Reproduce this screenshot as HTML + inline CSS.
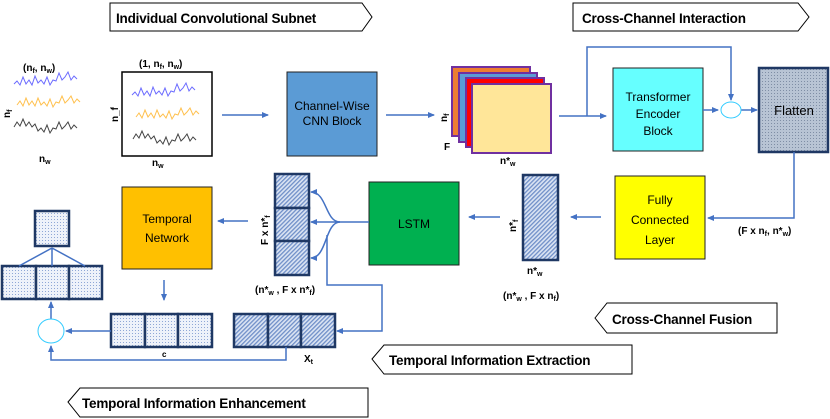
<!DOCTYPE html>
<html><head><meta charset="utf-8"><style>
body{margin:0;background:#fff}
svg{display:block}
text{font-family:"Liberation Sans",sans-serif}
</style></head><body>
<svg width="830" height="419" viewBox="0 0 830 419" xmlns="http://www.w3.org/2000/svg">
<defs>
<pattern id="hd" width="3" height="3" patternUnits="userSpaceOnUse" patternTransform="rotate(45)"><rect width="3" height="3" fill="#dbe4f3"/><rect width="1.3" height="3" fill="#6f8fc8"/></pattern>
<pattern id="dt" width="3" height="3" patternUnits="userSpaceOnUse"><rect width="3" height="3" fill="#eef2fa"/><rect width="1" height="1" fill="#8fa7d6"/></pattern>
<pattern id="gr" width="3" height="3" patternUnits="userSpaceOnUse"><rect width="3" height="3" fill="#b8c4d4"/><rect width="1" height="1" fill="#7f8ea5"/></pattern>
<marker id="ar" markerWidth="8" markerHeight="8" refX="6" refY="3" orient="auto" markerUnits="userSpaceOnUse"><path d="M0,0 L7,3 L0,6 z" fill="#4472C4"/></marker>
</defs>
<g stroke="#000" stroke-width="1" fill="#fff">
<path d="M110,3 H362 L372,17 L362,31 H110 Z"/>
<path d="M573,3 H798 L809,17 L798,31 H573 Z"/>
<path d="M595,318 L607,303 H777 V333 H607 Z"/>
<path d="M372,359 L384,345 H632 V374 H384 Z"/>
<path d="M68,402 L80,388 H368 V417 H80 Z"/>
</g>
<g font-weight="bold" font-size="13.5" fill="#000" letter-spacing="-0.2">
<text x="116" y="23">Individual Convolutional Subnet</text>
<text x="582" y="23">Cross-Channel Interaction</text>
<text x="612" y="324">Cross-Channel Fusion</text>
<text x="389" y="365">Temporal Information Extraction</text>
<text x="82" y="408">Temporal Information Enhancement</text>
</g>
<!-- signals -->
<g fill="none" stroke-width="1">
<path d="M14,84 l3,-3 3,4 3,-8 3,7 3,-4 3,5 3,-9 3,7 3,-3 3,4 3,-7 3,8 3,-5 3,1 3,-8 3,7 3,-3 3,-5 3,8 3,-4 3,3" stroke="#6b6bff"/>
<path d="M17,105 l3,-4 3,5 3,-8 3,7 3,-4 3,5 3,-8 3,7 3,-3 3,4 3,-7 3,8 3,-5 3,1 3,-7 3,7 3,-3 3,-4 3,7 3,-4 3,3" stroke="#ffc04d"/>
<path d="M14,127 l3,-5 3,4 3,-7 3,7 3,-4 3,5 3,-3 3,7 3,-3 3,4 3,-7 3,8 3,-5 3,1 3,-7 3,7 3,-3 3,-4 3,7 3,-4 3,3" stroke="#444"/>
<path d="M132,95 l3,-3 3,4 3,-8 3,7 3,-4 3,5 3,-9 3,7 3,-3 3,4 3,-7 3,8 3,-5 3,1 3,-8 3,7 3,-3 3,-5 3,8 3,-4 3,3" stroke="#6b6bff"/>
<path d="M136,117 l3,-4 3,5 3,-8 3,7 3,-4 3,5 3,-8 3,7 3,-3 3,4 3,-7 3,8 3,-5 3,1 3,-7 3,7 3,-3 3,-4 3,7 3,-4 3,3" stroke="#ffc04d"/>
<path d="M133,139 l3,-5 3,4 3,-7 3,7 3,-4 3,5 3,-3 3,7 3,-3 3,4 3,-7 3,8 3,-5 3,1 3,-7 3,7 3,-3 3,-4 3,7 3,-4 3,3" stroke="#444"/>
</g>
<g font-weight="bold" font-size="10" fill="#000">
<text x="23" y="71">(n<tspan font-size="7" dy="2">f</tspan><tspan dy="-2">, n</tspan><tspan font-size="7" dy="2">w</tspan><tspan dy="-2">)</tspan></text>
<text x="39" y="162">n<tspan font-size="7" dy="2">w</tspan></text>
<text x="152" y="166">n<tspan font-size="7" dy="2">w</tspan></text>
<text x="139" y="67">(1, n<tspan font-size="7" dy="2">f</tspan><tspan dy="-2">, n</tspan><tspan font-size="7" dy="2">w</tspan><tspan dy="-2">)</tspan></text>
<text transform="translate(10,118) rotate(-90)">n<tspan font-size="7" dy="2">f</tspan></text>
<text transform="translate(118,122) rotate(-90)">n_f</text>
<text transform="translate(447,122) rotate(-90)">n<tspan font-size="7" dy="2">f</tspan></text>
<text x="444" y="150">F</text>
<text x="500" y="164">n*<tspan font-size="7" dy="2">w</tspan></text>
<text x="738" y="234">(F x n<tspan font-size="7" dy="2">f</tspan><tspan dy="-2">, n*</tspan><tspan font-size="7" dy="2">w</tspan><tspan dy="-2">)</tspan></text>
<text transform="translate(516,232) rotate(-90)">n*<tspan font-size="7" dy="2">f</tspan></text>
<text x="527" y="274">n*<tspan font-size="7" dy="2">w</tspan></text>
<text x="503" y="299">(n*<tspan font-size="7" dy="2">w</tspan><tspan dy="-2"> , F x n</tspan><tspan font-size="7" dy="2">f</tspan><tspan dy="-2">)</tspan></text>
<text transform="translate(268,245) rotate(-90)">F x n*<tspan font-size="7" dy="2">f</tspan></text>
<text x="255" y="293">(n*<tspan font-size="7" dy="2">w</tspan><tspan dy="-2"> , F x n*</tspan><tspan font-size="7" dy="2">f</tspan><tspan dy="-2">)</tspan></text>
<text x="304" y="362">X<tspan font-size="7" dy="2">t</tspan></text>
<text x="162" y="357" font-size="8">c</text>
</g>
<rect x="122" y="72" width="90" height="84" fill="none" stroke="#000" stroke-width="1.5"/>
<!-- boxes -->
<g stroke="#222" stroke-width="1">
<rect x="287" y="72" width="90" height="84" fill="#5B9BD5"/>
<rect x="613" y="68" width="90" height="83" fill="#66FFFF"/>
<rect x="615" y="176" width="90" height="83" fill="#FFFF00"/>
<rect x="369" y="182" width="90" height="83" fill="#00B050"/>
<rect x="122" y="187" width="90" height="82" fill="#FFC000"/>
</g>
<g stroke="#7030A0" stroke-width="2">
<rect x="452" y="67" width="78" height="69" fill="#ED7D31"/>
<rect x="459" y="73" width="78" height="69" fill="#5B9BD5"/>
<rect x="466" y="78" width="78" height="69" fill="#FF0000"/>
<rect x="472" y="84" width="79" height="69" fill="#FFE699"/>
</g>
<rect x="759" y="68" width="69" height="84" fill="url(#gr)" stroke="#1F3864" stroke-width="2.5"/>
<g stroke="#1F3864" stroke-width="2.5">
<rect x="523" y="175" width="35" height="85" fill="url(#hd)"/>
<rect x="275" y="174" width="34" height="34" fill="url(#hd)"/>
<rect x="275" y="208" width="34" height="33" fill="url(#hd)"/>
<rect x="275" y="241" width="34" height="34" fill="url(#hd)"/>
<rect x="234" y="314" width="34" height="33" fill="url(#hd)"/>
<rect x="268" y="314" width="33" height="33" fill="url(#hd)"/>
<rect x="301" y="314" width="34" height="33" fill="url(#hd)"/>
<rect x="111" y="314" width="34" height="33" fill="url(#dt)"/>
<rect x="145" y="314" width="33" height="33" fill="url(#dt)"/>
<rect x="178" y="314" width="34" height="33" fill="url(#dt)"/>
<rect x="2" y="266" width="34" height="33" fill="url(#dt)"/>
<rect x="36" y="266" width="33" height="33" fill="url(#dt)"/>
<rect x="69" y="266" width="33" height="33" fill="url(#dt)"/>
<rect x="35" y="211" width="34" height="35" fill="url(#dt)"/>
</g>
<g font-size="12" fill="#000" text-anchor="middle">
<text x="332" y="110">Channel-Wise</text><text x="332" y="125">CNN Block</text>
<text x="658" y="101">Transformer</text><text x="658" y="118">Encoder</text><text x="658" y="135">Block</text>
<text x="794" y="115" font-size="13">Flatten</text>
<text x="660" y="204">Fully</text><text x="660" y="224">Connected</text><text x="660" y="244">Layer</text>
<text x="414" y="228">LSTM</text>
<text x="167" y="223">Temporal</text><text x="167" y="242">Network</text>
</g>
<!-- connectors -->
<g stroke="#4472C4" stroke-width="1.5" fill="none">
<path d="M222,115 H268" marker-end="url(#ar)"/>
<path d="M386,115 H434" marker-end="url(#ar)"/>
<path d="M559,116 H606" marker-end="url(#ar)"/>
<path d="M587,116 V47 H731 V100" marker-end="url(#ar)"/>
<path d="M703,110 H718" marker-end="url(#ar)"/>
<path d="M741,110 H757" marker-end="url(#ar)"/>
<path d="M794,152 V218 H708" marker-end="url(#ar)"/>
<path d="M601,217 H571" marker-end="url(#ar)"/>
<path d="M500,217 H469" marker-end="url(#ar)"/>
<path d="M369,222 H340"/>
<path d="M340,222 C325,222 327,192 311,192" marker-end="url(#ar)"/>
<path d="M340,222 H311" marker-end="url(#ar)"/>
<path d="M340,222 C325,222 327,258 311,258" marker-end="url(#ar)"/>
<path d="M327,235 V285 H382 V331 H337" marker-end="url(#ar)"/>
<path d="M248,221 H218" marker-end="url(#ar)"/>
<path d="M164,280 V300" marker-end="url(#ar)"/>
<path d="M111,331 H66" marker-end="url(#ar)"/>
<path d="M286,347 V360 H51 V346" marker-end="url(#ar)"/>
<path d="M51,319 V302" marker-end="url(#ar)"/>
<path d="M19,266 L52,248 M52,266 V248 M85,266 L52,248"/>
</g>
<ellipse cx="731" cy="110" rx="10" ry="8" fill="#fff" stroke="#33ccff" stroke-width="1"/>
<ellipse cx="51" cy="331" rx="13" ry="12" fill="#fff" stroke="#33ccff" stroke-width="1"/>
</svg>
</body></html>
